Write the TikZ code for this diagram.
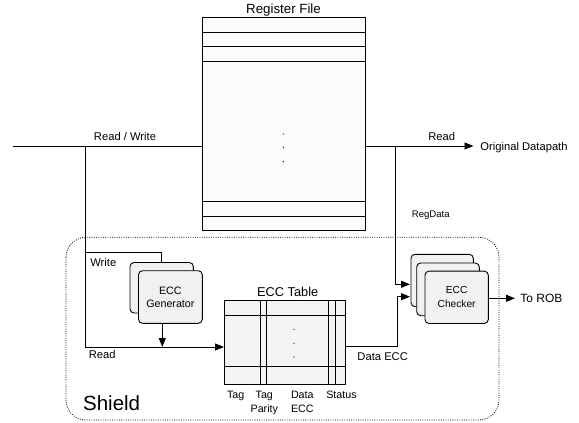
\documentclass[tikz,border=0pt]{standalone}
\usepackage{fontspec}
\setmainfont{Liberation Sans}
\usetikzlibrary{arrows.meta}
\definecolor{regfill}{HTML}{FBFBFB}
\definecolor{tabfill}{HTML}{F3F3F3}
\definecolor{boxfill}{HTML}{F1F1F1}
\begin{document}
\begin{tikzpicture}[x=1pt,y=-1pt,line width=0.9pt,
  lbl/.style={inner sep=0pt, anchor=base, font=\fontsize{11.2}{13}\selectfont},
  collbl/.style={inner sep=0pt, align=center, font=\fontsize{10.7}{14}\selectfont},
  arr/.style={-{Triangle[length=9pt,width=7pt]}},
  rbox/.style={draw, rounded corners=4pt, fill=boxfill, inner sep=0pt, align=center},
  plainbox/.style={draw, inner sep=0pt},
  dotbox/.style={line width=0.8pt, dash pattern=on 0.9pt off 1.4pt, rounded corners=20pt},
  dot/.style={fill, circle, inner sep=0pt, minimum size=1.3pt}
]
\useasboundingbox (0,0) rectangle (579,423);

% Shield region
\draw[dotbox] (66,237.3) rectangle (499,420);

% Register file
\node[plainbox, fill=regfill, minimum width=163.2pt, minimum height=213.4pt] (reg) at (283.9,124) {};
\foreach \yy in {32.3,46.7,61.3,201.7,216.7}
  \draw (reg.west |- 0,\yy) -- (reg.east |- 0,\yy);
\node[dot] (rd1) at (283.3,134) {};
\node[dot] (rd2) at (283.3,147.3) {};
\node[dot] (rd3) at (283.3,161.7) {};
\node[lbl, font=\fontsize{13.3}{15}\selectfont] (regtitle) at (283.5,13.6) {Register File};

% ECC table
\node[plainbox, fill=tabfill, minimum width=120.5pt, minimum height=83.6pt] (tab) at (284.75,342.5) {};
\foreach \yy in {315,366.7}
  \draw (tab.west |- 0,\yy) -- (tab.east |- 0,\yy);
\foreach \xx in {260.7,266.7,328.3,335.7}
  \draw (tab.north -| \xx,0) -- (tab.south -| \xx,0);
\node[dot] (td1) at (294,329.3) {};
\node[dot] (td2) at (294,343.3) {};
\node[dot] (td3) at (294,357) {};
\node[lbl, font=\fontsize{12.8}{15}\selectfont] (tabtitle) at (287.7,296.9) {ECC Table};
\node[lbl, font=\fontsize{10.7}{14}\selectfont] (ctag) at (235.7,398.8) {Tag};
\node[collbl] (cpar) at (264.3,402.8) {Tag\\Parity};
\node[collbl] (cdat) at (302.3,402) {Data\\ECC};
\node[lbl, font=\fontsize{10.7}{14}\selectfont] (csta) at (341.5,398.8) {Status};

% ECC generator
\node[rbox, minimum width=63.3pt, minimum height=50.5pt] (genb) at (161.65,287.75) {};
\node[rbox, minimum width=63.8pt, minimum height=52.6pt, font=\fontsize{10.7}{12.7}\selectfont] (genf) at (170.4,297) {ECC\\Generator};

% ECC checker
\node[rbox, minimum width=62.3pt, minimum height=52.4pt] (chkb) at (442.15,280.5) {};
\node[rbox, minimum width=62.6pt, minimum height=52.7pt] (chkm) at (448,289.35) {};
\node[rbox, minimum width=63.3pt, minimum height=52.3pt, font=\fontsize{10.2}{14}\selectfont] (chkf) at (456.65,297.3) {ECC\\Checker};

% coordinates
\coordinate (in) at (13,146);
\coordinate (jl) at (85,146);
\coordinate (jw) at (85,252.3);
\coordinate (rd) at (85,347);
\coordinate (gx) at (162.3,347);
\coordinate (jr) at (395.5,146);
\coordinate (od) at (473.5,146);
\coordinate (rgin) at (410,284.3);
\coordinate (decc) at (397.5,346.7);
\coordinate (dein) at (410,296.7);
\coordinate (rob) at (515,298.3);

% connectors
\draw (in) -- (in -| reg.west);
\draw[arr] (reg.east |- jr) -- (od);
\draw (jw) -| (genb.north);
\draw[arr] (jl) -- (rd) -- (rd -| tab.west);
\draw[arr] (genf.south -| gx) -- (gx);
\draw[arr] (jr) |- (rgin);
\draw[arr] (tab.east |- decc) -- (decc) |- (dein);
\draw[arr] (chkf.east |- rob) -- (rob);

% labels
\node[lbl] (lrw) at (125,140.7) {Read / Write};
\node[lbl] (lrd) at (441.7,140.7) {Read};
\node[lbl, anchor=base west] (lod) at (480,150) {Original Datapath};
\node[lbl, font=\fontsize{9.6}{12}\selectfont] (lrg) at (430.8,217.2) {RegData};
\node[lbl] (lwr) at (103.3,266.7) {Write};
\node[lbl] (lrd2) at (102.3,358.3) {Read};
\node[lbl] (lde) at (382.7,360.7) {Data ECC};
\node[lbl, anchor=base west, font=\fontsize{12}{14}\selectfont] (lrob) at (520,302.7) {To ROB};
\node[lbl, anchor=base west, font=\fontsize{20.5}{24}\selectfont] (lsh) at (82.7,410) {Shield};
\end{tikzpicture}
\end{document}
